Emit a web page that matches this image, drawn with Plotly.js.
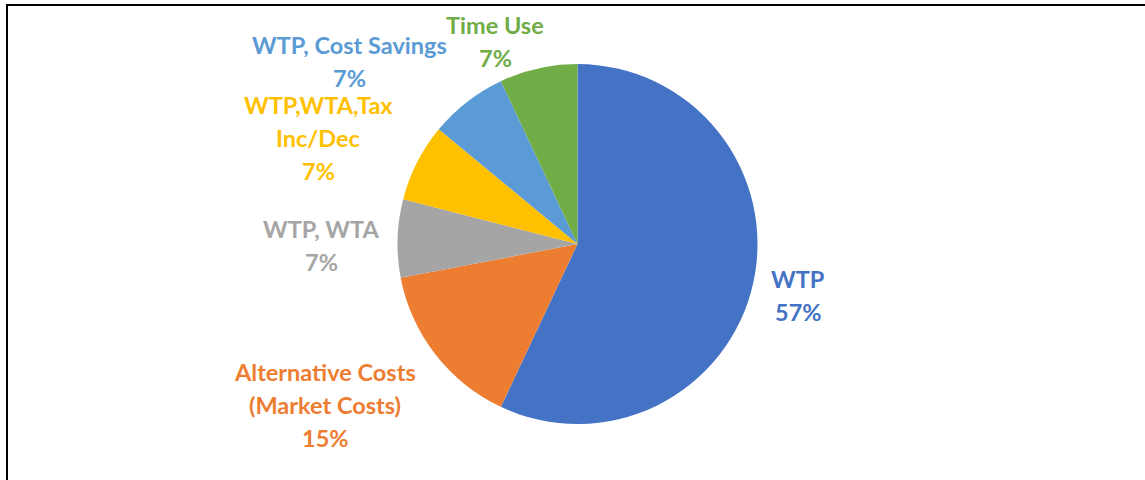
<!DOCTYPE html>
<html>
<head>
<meta charset="utf-8">
<script src="https://cdn.plot.ly/plotly-3.0.1.min.js"></script>
<style>
  html, body { margin: 0; padding: 0; background: #fff; }
  #wrap { position: relative; width: 1145px; height: 480px; overflow: hidden; }
  #chart { position: absolute; left: 0; top: 0; width: 1145px; height: 480px; }
  #frameTop { position: absolute; left: 6px; top: 4px; width: 1139px; height: 2px; background: #000; }
  #frameLeft { position: absolute; left: 6px; top: 4px; width: 2px; height: 476px; background: #000; }
</style>
</head>
<body>
<div id="wrap">
  <div id="chart"></div>
  <div id="frameTop"></div>
  <div id="frameLeft"></div>
</div>
<script>
// ---- data ----
const categories = ["WTP", "Alternative Costs (Market Costs)", "WTP, WTA", "WTP,WTA,Tax Inc/Dec", "WTP, Cost Savings", "Time Use"];
const labelLines = [["WTP"], ["Alternative Costs", "(Market Costs)"], ["WTP, WTA"], ["WTP,WTA,Tax", "Inc/Dec"], ["WTP, Cost Savings"], ["Time Use"]];
const shares = [57, 15, 7, 7, 7, 7];
const colors = ["#4472C4", "#ED7D31", "#A5A5A5", "#FFC000", "#5B9BD5", "#70AD47"];

// ---- layout: label anchor (centre of first line, px) ----
const W = 1145, H = 480;
const labelPos = [[798, 279], [325, 372], [321, 229], [318, 105], [349, 45], [495, 25]];
const lineGap = 33;

const total = shares.reduce((a, b) => a + b, 0);
const annotations = [];
categories.forEach((c, i) => {
  const lines = labelLines[i].concat([Math.round(shares[i] / total * 100) + "%"]);
  lines.forEach((ln, j) => {
    annotations.push({
      xref: "paper", yref: "paper",
      x: labelPos[i][0] / W, y: 1 - (labelPos[i][1] + j * lineGap) / H,
      xanchor: "center", yanchor: "middle",
      borderpad: 0,
      text: "<b>" + ln + "</b>", showarrow: false,
      font: { family: "Lato, 'Open Sans', sans-serif", size: 23.5, color: colors[i] }
    });
  });
});

const cx = 577.5, cy = 244, r = 180;
const trace = {
  type: "pie",
  labels: categories,
  values: shares,
  sort: false,
  direction: "clockwise",
  rotation: 0,
  textinfo: "none",
  hoverinfo: "label+percent",
  marker: { colors: colors, line: { color: "#ffffff", width: 0 } },
  domain: { x: [(cx - r) / W, (cx + r) / W], y: [1 - (cy + r) / H, 1 - (cy - r) / H] }
};

Plotly.newPlot("chart", [trace], {
  width: W, height: H,
  margin: { l: 0, r: 0, t: 0, b: 0 },
  showlegend: false,
  paper_bgcolor: "#ffffff",
  annotations: annotations
}, { displayModeBar: false, staticPlot: true });
</script>
</body>
</html>
